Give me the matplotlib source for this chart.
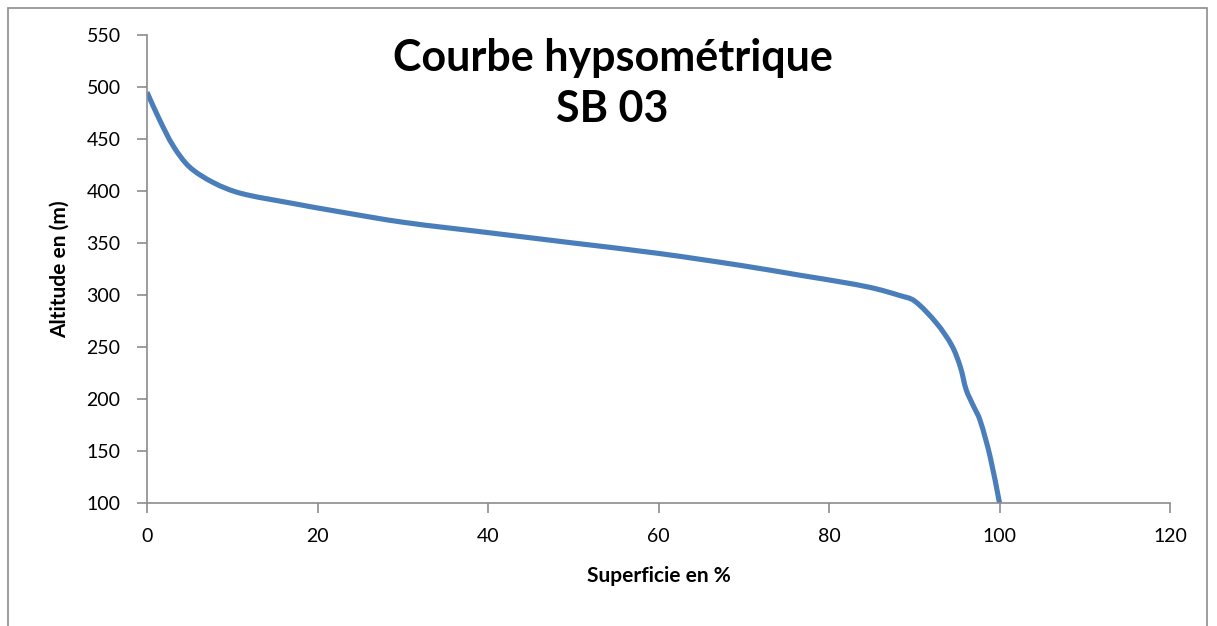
import numpy as np
import matplotlib
matplotlib.use('Agg')
import matplotlib.pyplot as plt
from matplotlib.patches import Rectangle, PathPatch
from matplotlib.path import Path

# surface cumulée (%) et altitude (m)
superficie = [0, 1.5, 3.1, 5.0, 7.8, 10.9, 16.8, 22.6, 30, 40, 50, 60, 70, 76.6,
              82.5, 85.5, 88.3, 90.0, 92.6, 94.4, 95.4, 96.1, 96.9, 97.7, 98.9, 100]
altitude = [495, 468, 443, 423, 408, 398, 388.5, 380, 370, 360, 350, 340, 328, 319,
            311, 306, 299.5, 294.5, 273, 251.5, 231, 208.7, 194, 180, 144.5, 100]

xticks = [0, 20, 40, 60, 80, 100, 120]
yticks = [100, 150, 200, 250, 300, 350, 400, 450, 500, 550]


def smooth_path(xs, ys, sx, sy):
    # courbe lissée : Bézier cubiques, tangentes pondérées par la longueur
    # des segments (mesurée à l'écran, échelles sx, sy)
    p = np.column_stack([xs, ys]).astype(float)
    n = len(p)
    scale = np.array([sx, sy])
    d = np.linalg.norm(np.diff(p * scale, axis=0), axis=1)
    tang = np.zeros_like(p)
    for i in range(n):
        if i == 0:
            tang[i] = (p[1] - p[0]) / d[0]
        elif i == n - 1:
            tang[i] = (p[-1] - p[-2]) / d[-1]
        else:
            tang[i] = (p[i + 1] - p[i - 1]) / (d[i - 1] + d[i])
    verts = [p[0]]
    codes = [Path.MOVETO]
    for i in range(n - 1):
        c1 = p[i] + tang[i] * d[i] / 3.0
        c2 = p[i + 1] - tang[i + 1] * d[i] / 3.0
        verts += [c1, c2, p[i + 1]]
        codes += [Path.CURVE4] * 3
    return Path(verts, codes)


plt.rcParams['font.family'] = ['Lato', 'DejaVu Sans']

fig = plt.figure(figsize=(12.17, 6.26), dpi=100)
fig.patches.append(Rectangle((8/1217, -0.01), 1199/1217, 1.0 - 8/626 + 0.01,
                             transform=fig.transFigure, fill=False,
                             edgecolor='#8c8c8c', linewidth=1.2))
ax = fig.add_axes([147/1217, 123/626, 1023/1217, 468/626])

ax.add_patch(PathPatch(smooth_path(superficie, altitude, 1023/120, 468/450),
                       facecolor='none', edgecolor='#4A7EBB', linewidth=3.7,
                       capstyle='butt', joinstyle='round'))

ax.set_xlim(0, 120)
ax.set_ylim(100, 550)
ax.set_xticks(xticks)
ax.set_yticks(yticks)
ax.tick_params(labelsize=14, color='#8c8c8c', length=7, width=1.2)
ax.tick_params(axis='x', pad=11)
ax.tick_params(axis='y', pad=12)
for s in ['top', 'right']:
    ax.spines[s].set_visible(False)
for s in ['left', 'bottom']:
    ax.spines[s].set_color('#8c8c8c')
    ax.spines[s].set_linewidth(1.2)

ax.set_xlabel('Superficie en %', fontsize=15, fontweight='bold', labelpad=15)
ax.set_ylabel('Altitude en (m)', fontsize=15, fontweight='bold', labelpad=12)

ax.text(0.455, 0.896, 'Courbe hypsométrique\nSB 03', transform=ax.transAxes,
        ha='center', va='center', fontsize=31, fontweight='bold', linespacing=1.35)

fig.savefig('out.png', dpi=100)
